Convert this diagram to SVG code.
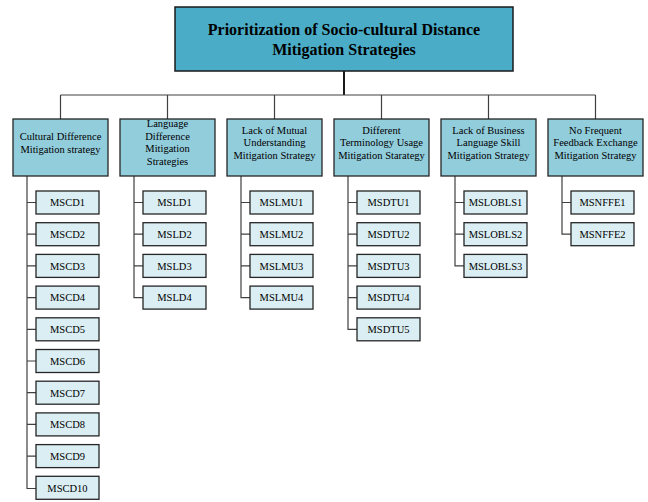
<svg xmlns="http://www.w3.org/2000/svg" width="648" height="502" viewBox="0 0 648 502">
  <style>
    .root { fill: #4aacc6; stroke: #1a1a1a; stroke-width: 1.5; }
    .cat { fill: #92cddc; stroke: #262626; stroke-width: 1.3; }
    .leaf { fill: #daeef3; stroke: #262626; stroke-width: 1.3; }
    .t { font-family: "Liberation Serif", "Times New Roman", serif; fill: #000; text-anchor: middle; }
    .title { font-size: 16px; font-weight: bold; }
    .ct { font-size: 10.5px; }
    .lt { font-size: 10.5px; }
    .wire { fill: none; stroke: #404040; stroke-width: 1.2; }
    .trunk { fill: none; stroke: #000; stroke-width: 1.8; }
  </style>

  <!-- connectors -->
  <g id="connectors">
    <line class="trunk" x1="344" y1="71" x2="344" y2="95"/>
    <line class="wire" x1="60.5" y1="95" x2="595.5" y2="95"/>
    <path class="wire" d="M60.5 95V119M167.5 95V119M274.5 95V119M381.5 95V119M488.5 95V119M595.5 95V119"/>
    <!-- spines: category box to its leaves -->
    <path class="wire" d="M27 176V488.5H36M27 202.5H36M27 234.2H36M27 265.9H36M27 297.6H36M27 329.3H36M27 361H36M27 392.7H36M27 424.4H36M27 456.1H36"/>
    <path class="wire" d="M134 176V297.6H143M134 202.5H143M134 234.2H143M134 265.9H143"/>
    <path class="wire" d="M241 176V297.6H250M241 202.5H250M241 234.2H250M241 265.9H250"/>
    <path class="wire" d="M348 176V329.3H357M348 202.5H357M348 234.2H357M348 265.9H357M348 297.6H357"/>
    <path class="wire" d="M455 176V265.9H464M455 202.5H464M455 234.2H464"/>
    <path class="wire" d="M562 176V234.2H571M562 202.5H571"/>
  </g>

  <g id="root">
    <rect class="root" x="175" y="7" width="338" height="64"/>
    <text class="t title" x="344" y="35">Prioritization of Socio-cultural Distance</text>
    <text class="t title" x="344" y="55">Mitigation Strategies</text>
  </g>

  <g id="cat-cd">
    <rect class="cat" x="13" y="119" width="95" height="57"/>
    <text class="t ct" x="60.5" y="140">Cultural Difference</text>
    <text class="t ct" x="60.5" y="153">Mitigation strategy</text>
  </g>
  <g id="cat-ld">
    <rect class="cat" x="120" y="119" width="95" height="57"/>
    <text class="t ct" x="167.5" y="127">Language</text>
    <text class="t ct" x="167.5" y="139.5">Difference</text>
    <text class="t ct" x="167.5" y="152">Mitigation</text>
    <text class="t ct" x="167.5" y="164.5">Strategies</text>
  </g>
  <g id="cat-lmu">
    <rect class="cat" x="227" y="119" width="95" height="57"/>
    <text class="t ct" x="274.5" y="133.5">Lack of Mutual</text>
    <text class="t ct" x="274.5" y="146">Understanding</text>
    <text class="t ct" x="274.5" y="158.5">Mitigation Strategy</text>
  </g>
  <g id="cat-dtu">
    <rect class="cat" x="334" y="119" width="95" height="57"/>
    <text class="t ct" x="381.5" y="133.5">Different</text>
    <text class="t ct" x="381.5" y="146">Terminology Usage</text>
    <text class="t ct" x="381.5" y="158.5">Mitigation Starategy</text>
  </g>
  <g id="cat-lobls">
    <rect class="cat" x="441" y="119" width="95" height="57"/>
    <text class="t ct" x="488.5" y="133.5">Lack of Business</text>
    <text class="t ct" x="488.5" y="146">Language Skill</text>
    <text class="t ct" x="488.5" y="158.5">Mitigation Strategy</text>
  </g>
  <g id="cat-nffe">
    <rect class="cat" x="548" y="119" width="95" height="57"/>
    <text class="t ct" x="595.5" y="133.5">No Frequent</text>
    <text class="t ct" x="595.5" y="146">Feedback Exchange</text>
    <text class="t ct" x="595.5" y="158.5">Mitigation Strategy</text>
  </g>

  <!-- leaves: Cultural Difference -->
  <g id="MSCD1"><rect class="leaf" x="36" y="191" width="63" height="23"/><text class="t lt" x="67.5" y="206.3">MSCD1</text></g>
  <g id="MSCD2"><rect class="leaf" x="36" y="222.7" width="63" height="23"/><text class="t lt" x="67.5" y="238">MSCD2</text></g>
  <g id="MSCD3"><rect class="leaf" x="36" y="254.4" width="63" height="23"/><text class="t lt" x="67.5" y="269.7">MSCD3</text></g>
  <g id="MSCD4"><rect class="leaf" x="36" y="286.1" width="63" height="23"/><text class="t lt" x="67.5" y="301.4">MSCD4</text></g>
  <g id="MSCD5"><rect class="leaf" x="36" y="317.8" width="63" height="23"/><text class="t lt" x="67.5" y="333.1">MSCD5</text></g>
  <g id="MSCD6"><rect class="leaf" x="36" y="349.5" width="63" height="23"/><text class="t lt" x="67.5" y="364.8">MSCD6</text></g>
  <g id="MSCD7"><rect class="leaf" x="36" y="381.2" width="63" height="23"/><text class="t lt" x="67.5" y="396.5">MSCD7</text></g>
  <g id="MSCD8"><rect class="leaf" x="36" y="412.9" width="63" height="23"/><text class="t lt" x="67.5" y="428.2">MSCD8</text></g>
  <g id="MSCD9"><rect class="leaf" x="36" y="444.6" width="63" height="23"/><text class="t lt" x="67.5" y="459.9">MSCD9</text></g>
  <g id="MSCD10"><rect class="leaf" x="36" y="476.3" width="63" height="23"/><text class="t lt" x="67.5" y="491.6">MSCD10</text></g>

  <!-- leaves: Language Difference -->
  <g id="MSLD1"><rect class="leaf" x="143" y="191" width="63" height="23"/><text class="t lt" x="174.5" y="206.3">MSLD1</text></g>
  <g id="MSLD2"><rect class="leaf" x="143" y="222.7" width="63" height="23"/><text class="t lt" x="174.5" y="238">MSLD2</text></g>
  <g id="MSLD3"><rect class="leaf" x="143" y="254.4" width="63" height="23"/><text class="t lt" x="174.5" y="269.7">MSLD3</text></g>
  <g id="MSLD4"><rect class="leaf" x="143" y="286.1" width="63" height="23"/><text class="t lt" x="174.5" y="301.4">MSLD4</text></g>

  <!-- leaves: Lack of Mutual Understanding -->
  <g id="MSLMU1"><rect class="leaf" x="250" y="191" width="63" height="23"/><text class="t lt" x="281.5" y="206.3">MSLMU1</text></g>
  <g id="MSLMU2"><rect class="leaf" x="250" y="222.7" width="63" height="23"/><text class="t lt" x="281.5" y="238">MSLMU2</text></g>
  <g id="MSLMU3"><rect class="leaf" x="250" y="254.4" width="63" height="23"/><text class="t lt" x="281.5" y="269.7">MSLMU3</text></g>
  <g id="MSLMU4"><rect class="leaf" x="250" y="286.1" width="63" height="23"/><text class="t lt" x="281.5" y="301.4">MSLMU4</text></g>

  <!-- leaves: Different Terminology Usage -->
  <g id="MSDTU1"><rect class="leaf" x="357" y="191" width="63" height="23"/><text class="t lt" x="388.5" y="206.3">MSDTU1</text></g>
  <g id="MSDTU2"><rect class="leaf" x="357" y="222.7" width="63" height="23"/><text class="t lt" x="388.5" y="238">MSDTU2</text></g>
  <g id="MSDTU3"><rect class="leaf" x="357" y="254.4" width="63" height="23"/><text class="t lt" x="388.5" y="269.7">MSDTU3</text></g>
  <g id="MSDTU4"><rect class="leaf" x="357" y="286.1" width="63" height="23"/><text class="t lt" x="388.5" y="301.4">MSDTU4</text></g>
  <g id="MSDTU5"><rect class="leaf" x="357" y="317.8" width="63" height="23"/><text class="t lt" x="388.5" y="333.1">MSDTU5</text></g>

  <!-- leaves: Lack of Business Language Skill -->
  <g id="MSLOBLS1"><rect class="leaf" x="464" y="191" width="63" height="23"/><text class="t lt" x="495.5" y="206.3">MSLOBLS1</text></g>
  <g id="MSLOBLS2"><rect class="leaf" x="464" y="222.7" width="63" height="23"/><text class="t lt" x="495.5" y="238">MSLOBLS2</text></g>
  <g id="MSLOBLS3"><rect class="leaf" x="464" y="254.4" width="63" height="23"/><text class="t lt" x="495.5" y="269.7">MSLOBLS3</text></g>

  <!-- leaves: No Frequent Feedback Exchange -->
  <g id="MSNFFE1"><rect class="leaf" x="571" y="191" width="63" height="23"/><text class="t lt" x="602.5" y="206.3">MSNFFE1</text></g>
  <g id="MSNFFE2"><rect class="leaf" x="571" y="222.7" width="63" height="23"/><text class="t lt" x="602.5" y="238">MSNFFE2</text></g>
</svg>
